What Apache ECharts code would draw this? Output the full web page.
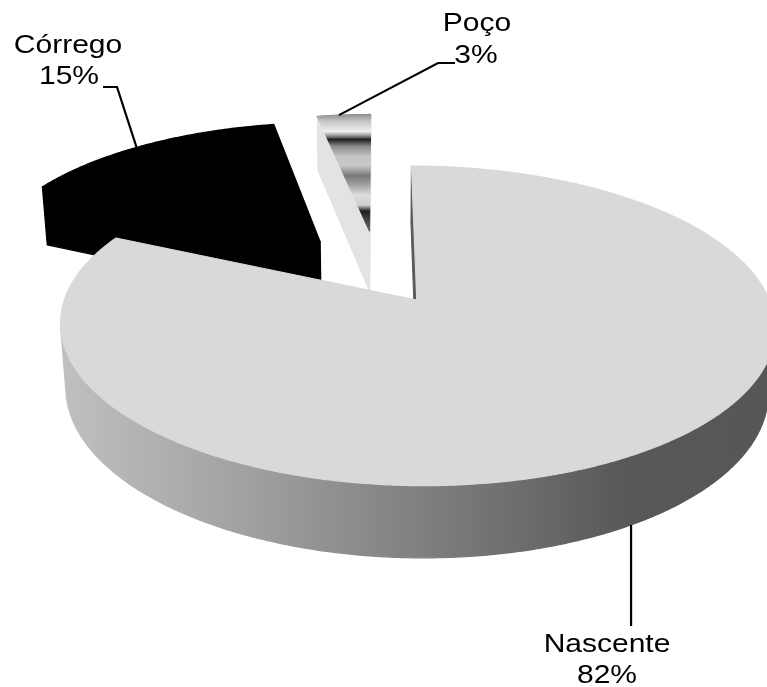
<!DOCTYPE html>
<html><head><meta charset="utf-8">
<script src="https://cdn.jsdelivr.net/npm/echarts@6/dist/echarts.min.js"></script>
<style>html,body{margin:0;padding:0;background:#fff}#c{width:767px;height:687px}</style>
</head><body><div id="c"></div>
<script>
// ---- data ----
const categories = ['Nascente', 'Córrego', 'Poço'];
const values = [82, 15, 3];

// ---- view / style ----
const view = { f: 1917, D: 5.7, phiDeg: 26, cx: 379, cy: 274.4, kx: 1.02, H: 0.21 };
const explode = [0.2, 0.29, 0.31];
const RAD = Math.PI / 180;
const S = Math.sin(view.phiDeg * RAD), C = Math.cos(view.phiDeg * RAD);

const nascSide = { type: 'linear', x: 0, y: 0, x2: 1, y2: 0, colorStops: [
  { offset: 0, color: '#c0c0c0' }, { offset: 0.25, color: '#a2a2a2' }, { offset: 0.34, color: '#969696' },
  { offset: 0.5, color: '#808080' }, { offset: 0.65, color: '#6c6c6c' }, { offset: 0.79, color: '#585858' },
  { offset: 1, color: '#565656' }] };
const metal = { type: 'linear', x: 0, y: 0, x2: 0, y2: 1, colorStops: [
  { offset: 0, color: '#8c8c8c' }, { offset: 0.067, color: '#c8c8c8' }, { offset: 0.15, color: '#eeeeee' },
  { offset: 0.19, color: '#888888' }, { offset: 0.217, color: '#1e1e1e' }, { offset: 0.275, color: '#8a8a8a' },
  { offset: 0.36, color: '#c4c4c4' }, { offset: 0.44, color: '#c8c8c8' }, { offset: 0.525, color: '#777777' },
  { offset: 0.59, color: '#999999' }, { offset: 0.69, color: '#dddddd' }, { offset: 0.775, color: '#d0d0d0' },
  { offset: 0.825, color: '#1e1e1e' }, { offset: 0.9, color: '#444444' }, { offset: 1, color: '#666666' }] };
const sliceStyle = [
  { top: '#d9d9d9', side: nascSide, startWall: '#5a5a5a', endWall: '#5a5a5a' },
  { top: '#000000', side: '#000000', startWall: '#000000', endWall: '#000000' },
  { top: metal, side: '#888888', startWall: '#e3e3e3', endWall: '#e3e3e3' }
];
const labelLayout = [
  { bottom: true, shift: 1, leader: [[null, 626]], name: [607, 645], pct: [607, 676] },
  { bottom: false, shift: -2, leader: [[117, 87], [103, 87]], name: [68, 46], pct: [69, 77] },
  { bottom: false, shift: -1, leader: [[438, 63], [455, 63]], name: [477, 24], pct: [476, 56] }
];
const font = { fontFamily: 'Liberation Sans', fontSize: 25, scaleX: 1.2 };

// ---- geometry ----
const total = values.reduce((a, b) => a + b, 0);
const starts = []; { let acc = 0; values.forEach(v => { starts.push(acc / total * 360); acc += v; }); }
const offsets = values.map((v, i) => {
  const mid = (starts[i] + v / total * 180) * RAD;
  return [explode[i] * Math.sin(mid), -explode[i] * Math.cos(mid)];
});
const depthOrder = offsets.map((o, i) => i).sort((a, b) => offsets[a][1] - offsets[b][1]);

function proj(X, Y, Z) {
  const d = view.D - (Y * S + Z * C);
  return [view.cx + view.kx * view.f * X / d, view.cy - view.f * (Y * C - Z * S) / d];
}

function poly(z2, pts, fill) {
  return { type: 'polygon', z2, shape: { points: pts },
    style: { fill, stroke: fill, lineWidth: 1.2, lineJoin: 'round' } };
}

function renderItem(params, api) {
  const i = params.dataIndex;
  const v = api.value(0);
  const a0 = starts[i], a1 = a0 + v / total * 360;
  const mid = (a0 + a1) / 2;
  const [Ox, Oz] = offsets[i];
  const H = view.H;
  const camZ = view.D * C;
  const P = (deg, y, r) => { const t = deg * RAD; return proj(Ox + r * Math.sin(t), y, Oz - r * Math.cos(t)); };
  const st = sliceStyle[i];
  const zb = 1 + depthOrder.indexOf(i) * 3;
  const kids = [];
  const angles = [];
  for (let d = a0; d < a1; d += 0.5) angles.push(d);
  angles.push(a1);

  // radial walls
  [[a0, -1, st.startWall], [a1, 1, st.endWall]].forEach(([deg, sg, col]) => {
    const t = deg * RAD;
    const nx = sg * Math.cos(t), nz = sg * Math.sin(t);
    const mx = Ox + 0.5 * Math.sin(t), mz = Oz - 0.5 * Math.cos(t);
    if (nx * (0 - mx) + nz * (camZ - mz) > 0) {
      kids.push(poly(zb, [P(deg, 0, 0), P(deg, 0, 1), P(deg, -H, 1), P(deg, -H, 0)], col));
    }
  });
  // outer wall (visible runs)
  const runs = []; let run = [];
  angles.forEach(d => {
    const t = d * RAD;
    const vis = -1 - Ox * Math.sin(t) - (camZ - Oz) * Math.cos(t) > 0;
    if (vis) run.push(d); else { if (run.length > 1) runs.push(run); run = []; }
  });
  if (run.length > 1) runs.push(run);
  runs.forEach(r => {
    const pts = r.map(d => P(d, 0, 1)).concat(r.slice().reverse().map(d => P(d, -H, 1)));
    kids.push(poly(zb + 1, pts, st.side));
  });
  // top face
  const topPts = [P(a0, 0, 0)].concat(angles.map(d => P(d, 0, 1)));
  kids.push(poly(20, topPts, st.top));

  // label
  const L = labelLayout[i];
  const anchor = L.bottom ? P(mid + L.shift, -H, 1) : P(mid + L.shift, 0, 1);
  const line = [anchor].concat(L.leader.map(p => [p[0] === null ? anchor[0] : p[0], p[1]]));
  kids.push({ type: 'polyline', z2: 30, shape: { points: line }, style: { stroke: '#000', lineWidth: 2.2, fill: null } });
  const pct = Math.round(v / total * 100) + '%';
  [[categories[i], L.name], [pct, L.pct]].forEach(([txt, pos]) => {
    kids.push({ type: 'text', z2: 30, x: pos[0], y: pos[1], scaleX: font.scaleX,
      style: { text: txt, x: 0, y: 0, fill: '#000', fontFamily: font.fontFamily, fontSize: font.fontSize,
        align: 'center', verticalAlign: 'middle' } });
  });
  return { type: 'group', children: kids };
}

const chart = echarts.init(document.getElementById('c'), null, { renderer: 'canvas' });
chart.setOption({
  animation: false,
  series: [{
    type: 'custom', coordinateSystem: 'none', renderItem,
    data: values.map((v, i) => ({ name: categories[i], value: [v] }))
  }]
});
</script></body></html>
